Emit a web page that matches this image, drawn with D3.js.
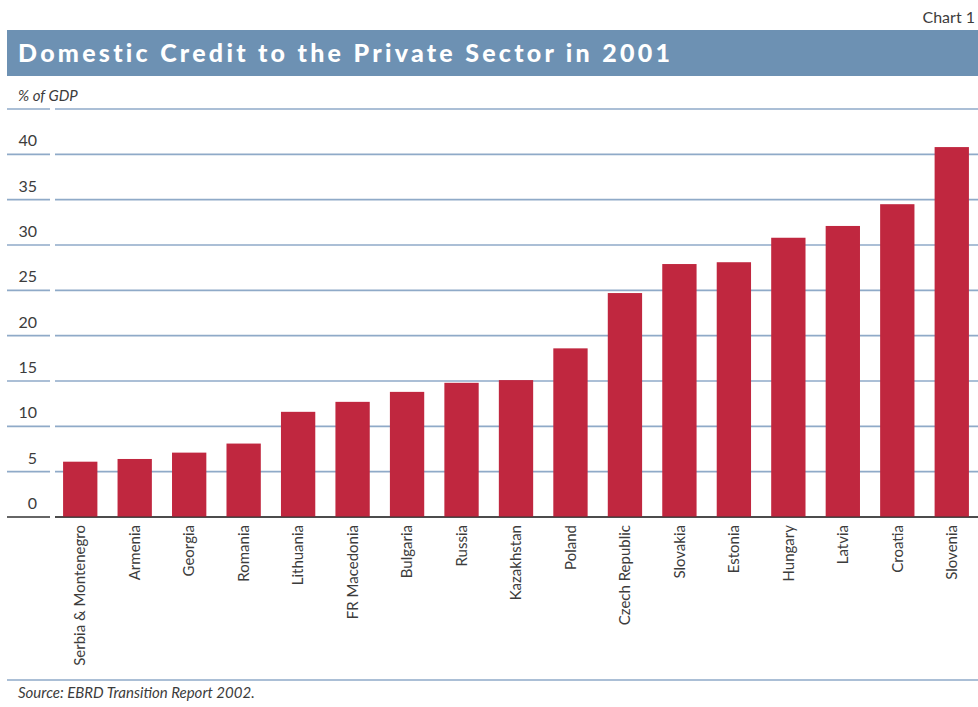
<!DOCTYPE html>
<html>
<head>
<meta charset="utf-8">
<script src="https://cdn.jsdelivr.net/npm/d3@7"></script>
<style>
  body { margin: 0; background: #fff; }
  svg { display: block; font-family: Lato, "Open Sans", sans-serif; }
</style>
</head>
<body>
<div id="chart"></div>
<script>
// data
const countries = ["Serbia & Montenegro", "Armenia", "Georgia", "Romania", "Lithuania",
  "FR Macedonia", "Bulgaria", "Russia", "Kazakhstan", "Poland", "Czech Republic",
  "Slovakia", "Estonia", "Hungary", "Latvia", "Croatia", "Slovenia"];
const credit = [6.1, 6.4, 7.1, 8.1, 11.6, 12.7, 13.8, 14.8, 15.1, 18.6, 24.7,
  27.9, 28.1, 30.8, 32.1, 34.5, 40.8];
const gridValues = [0, 5, 10, 15, 20, 25, 30, 35, 40, 45];
const tickLabels = [0, 5, 10, 15, 20, 25, 30, 35, 40];

const width = 978, height = 707;
const textColor = "#3c3c3c";

const svg = d3.select("#chart").append("svg")
  .attr("width", width)
  .attr("height", height);

// scales
const x = d3.scaleBand()
  .domain(countries)
  .range([53, 979])
  .paddingInner(0.37)
  .paddingOuter(0.185);

const y = d3.scaleLinear()
  .domain([0, 45])
  .range([517, 109]);

// chart number, top right
svg.append("text")
  .attr("x", 975).attr("y", 23)
  .attr("text-anchor", "end")
  .attr("font-size", 16)
  .attr("fill", textColor)
  .text("Chart 1");

// title banner
svg.append("rect")
  .attr("x", 7).attr("y", 30)
  .attr("width", width - 7).attr("height", 46)
  .attr("fill", "#6d91b3");

svg.append("text")
  .attr("x", 18).attr("y", 62)
  .attr("font-family", "Lato, 'DejaVu Sans', sans-serif")
  .attr("font-weight", 900)
  .attr("font-size", 25)
  .attr("fill", "#fff")
  .attr("textLength", 652)
  .attr("lengthAdjust", "spacing")
  .style("font-variant-ligatures", "none")
  .text("Domestic Credit to the Private Sector in 2001");

svg.append("text")
  .attr("x", 18).attr("y", 101)
  .attr("font-size", 15)
  .attr("font-style", "italic")
  .attr("fill", textColor)
  .text("% of GDP");

// gridlines: a short stub under the labels, then the full line
const grid = svg.append("g");
[[7, 50], [55, width]].forEach(([x0, x1]) => {
  grid.selectAll(null)
    .data(gridValues)
    .enter()
    .append("line")
    .attr("x1", x0).attr("x2", x1)
    .attr("y1", d => y(d)).attr("y2", d => y(d))
    .attr("stroke", d => d === 0 ? "#333" : "#8faac8")
    .attr("stroke-width", 1.6);
});

// y tick labels sit above their lines
svg.append("g")
  .selectAll("text")
  .data(tickLabels)
  .enter()
  .append("text")
  .attr("x", 37)
  .attr("y", d => y(d) - 8)
  .attr("text-anchor", "end")
  .attr("font-size", 16)
  .attr("fill", textColor)
  .text(d => d);

// bars
svg.append("g")
  .selectAll("rect")
  .data(countries)
  .enter()
  .append("rect")
  .attr("x", d => x(d))
  .attr("y", (d, i) => y(credit[i]))
  .attr("width", x.bandwidth())
  .attr("height", (d, i) => y(0) - y(credit[i]))
  .attr("fill", "#c0273f");

// redraw zero line over the bars
svg.append("line")
  .attr("x1", 55).attr("x2", width)
  .attr("y1", y(0)).attr("y2", y(0))
  .attr("stroke", "#333")
  .attr("stroke-width", 1.2);

// category labels, rotated
const xAxis = svg.append("g")
  .attr("transform", `translate(0,${y(0) + 8})`)
  .call(d3.axisBottom(x).tickSize(0).tickPadding(0));
xAxis.select(".domain").remove();
xAxis.selectAll("text")
  .attr("font-family", "Lato, 'Open Sans', sans-serif")
  .attr("font-size", 15)
  .attr("fill", textColor)
  .attr("transform", "rotate(-90)")
  .attr("text-anchor", "end")
  .attr("x", 0)
  .attr("y", 0)
  .attr("dy", "0.35em");

// bottom rule and source
svg.append("line")
  .attr("x1", 7).attr("x2", width)
  .attr("y1", 680).attr("y2", 680)
  .attr("stroke", "#8faac8")
  .attr("stroke-width", 1.6);

svg.append("text")
  .attr("x", 18).attr("y", 698)
  .attr("font-size", 15)
  .attr("font-style", "italic")
  .attr("fill", textColor)
  .text("Source: EBRD Transition Report 2002.");
</script>
</body>
</html>
